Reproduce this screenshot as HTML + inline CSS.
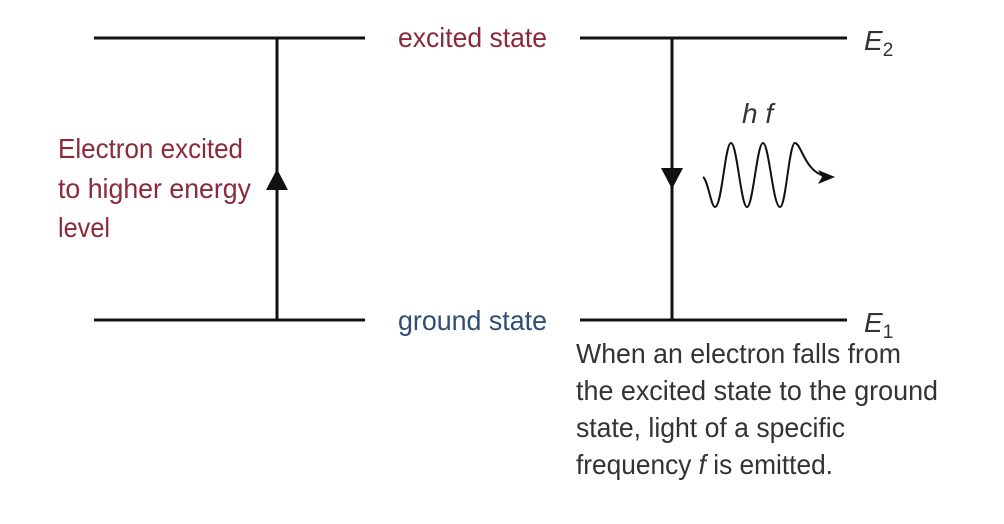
<!DOCTYPE html>
<html><head><meta charset="utf-8"><style>
html,body{margin:0;padding:0;background:#fff;}
svg{display:block;}
text{font-family:"Liberation Sans Narrow","Liberation Sans",sans-serif;font-size:28px;}
</style></head><body>
<svg width="1004" height="524" viewBox="0 0 1004 524" xmlns="http://www.w3.org/2000/svg">
<g stroke="#111" stroke-width="3" fill="none">
<line x1="94" y1="38" x2="365" y2="38"/>
<line x1="580" y1="38" x2="847" y2="38"/>
<line x1="94" y1="320" x2="365" y2="320"/>
<line x1="580" y1="320" x2="847" y2="320"/>
<line x1="277" y1="38" x2="277" y2="320"/>
<line x1="672" y1="38" x2="672" y2="320"/>
<path stroke-width="2" d="M703 177 C708 180,711 207,715 207 C722 207,725 143,731 143 C737 143,741 207,747 207 C753 207,757 143,763 143 C769 143,773 207,780 207 C786 207,789 143,795 143 C801 143,805 172,825 176"/>
</g>
<polygon points="277,169 266,190 288,190" fill="#111"/>
<polygon points="661,168 683,168 672,189" fill="#111"/>
<polygon points="835,177 818,170 822,177 818,184" fill="#111"/>
<g fill="#8b2a3a">
<text x="398" y="47" textLength="149" lengthAdjust="spacingAndGlyphs">excited state</text>
<text x="58" y="158" textLength="185" lengthAdjust="spacingAndGlyphs">Electron excited</text>
<text x="58" y="198" textLength="193" lengthAdjust="spacingAndGlyphs">to higher energy</text>
<text x="58" y="237" textLength="52" lengthAdjust="spacingAndGlyphs">level</text>
</g>
<text x="398" y="330" fill="#2f4e77" textLength="149" lengthAdjust="spacingAndGlyphs">ground state</text>
<g fill="#333">
<text x="742" y="123" font-style="italic">h f</text>
<text x="864" y="50" font-style="italic">E<tspan font-size="19" font-style="normal" dy="6">2</tspan></text>
<text x="864" y="332" font-style="italic">E<tspan font-size="19" font-style="normal" dy="6">1</tspan></text>
<text x="576" y="363" textLength="325" lengthAdjust="spacingAndGlyphs">When an electron falls from</text>
<text x="576" y="400" textLength="362" lengthAdjust="spacingAndGlyphs">the excited state to the ground</text>
<text x="576" y="437" textLength="269" lengthAdjust="spacingAndGlyphs">state, light of a specific</text>
<text x="576" y="474" textLength="257" lengthAdjust="spacingAndGlyphs">frequency <tspan font-style="italic">f</tspan> is emitted.</text>
</g>
</svg>
</body></html>
